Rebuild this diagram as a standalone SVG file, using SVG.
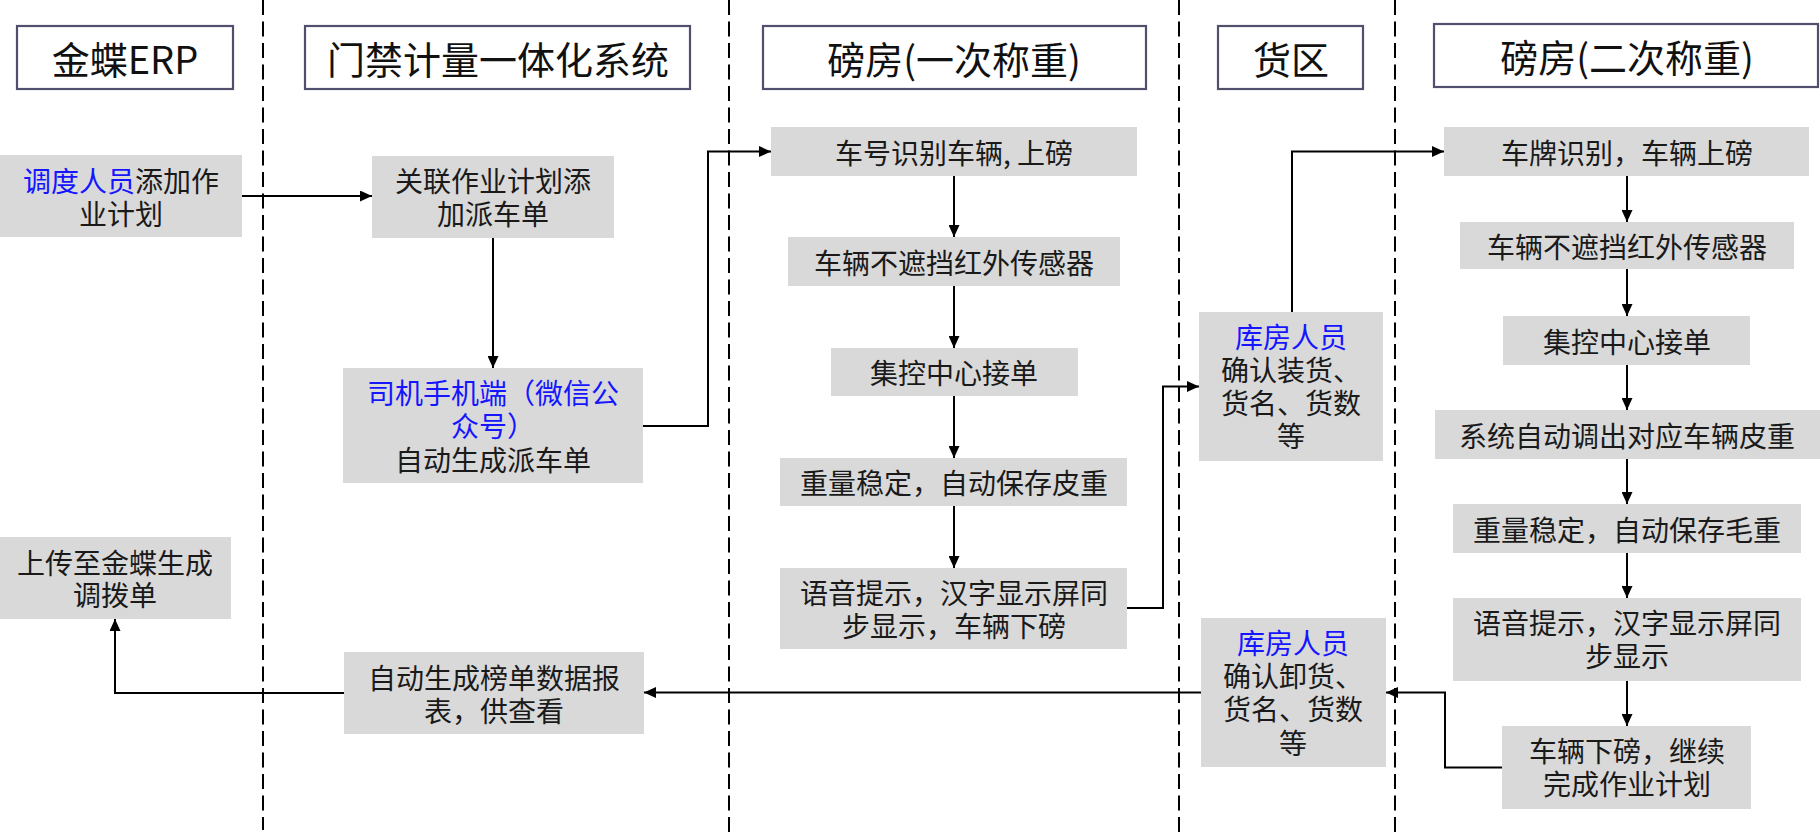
<svg xmlns="http://www.w3.org/2000/svg" width="1820" height="840" viewBox="0 0 1820 840">
<style>
.hdr{fill:#fff;stroke:#50506c;stroke-width:2.2}
.ht{font-family:"Noto Sans CJK SC","Noto Sans",sans-serif;font-size:38px;fill:#111;text-anchor:middle;dominant-baseline:central}
.nd{fill:#d9d9d9}
.t{font-family:"Noto Sans CJK SC","Noto Sans",sans-serif;font-size:28px;fill:#1a1a1a;text-anchor:middle;dominant-baseline:central}
.b{fill:#1515ff}
.lane{stroke:#000;stroke-width:2;stroke-dasharray:15 6.5;fill:none}
.c{stroke:#000;stroke-width:2;fill:none;marker-end:url(#ah)}
</style>
<defs>
<marker id="ah" markerUnits="userSpaceOnUse" markerWidth="12" markerHeight="11" refX="12" refY="5.5" orient="auto">
<path d="M0,0 L12,5.5 L0,11 z" fill="#000"/>
</marker>
</defs>
<rect width="1820" height="840" fill="#fff"/>
<g id="lanes">
<line class="lane" x1="263" y1="0" x2="263" y2="830"/>
<line class="lane" x1="729" y1="0" x2="729" y2="836"/>
<line class="lane" x1="1179" y1="0" x2="1179" y2="838"/>
<line class="lane" x1="1395" y1="0" x2="1395" y2="838"/>
</g>
<g id="h1"><rect class="hdr" x="17" y="26" width="216" height="63"/><text class="ht" x="125" y="57">金蝶ERP</text></g>
<g id="h2"><rect class="hdr" x="305" y="26" width="385" height="63"/><text class="ht" x="498" y="57">门禁计量一体化系统</text></g>
<g id="h3"><rect class="hdr" x="763" y="26" width="383" height="63"/><text class="ht" x="954" y="57">磅房(一次称重)</text></g>
<g id="h4"><rect class="hdr" x="1218" y="26" width="145" height="63"/><text class="ht" x="1291" y="57">货区</text></g>
<g id="h5"><rect class="hdr" x="1434" y="24" width="384" height="63"/><text class="ht" x="1627" y="55">磅房(二次称重)</text></g>

<g id="n1"><rect class="nd" x="0" y="155" width="242" height="82"/><text class="t" x="121" y="180"><tspan class="b">调度人员</tspan>添加作<tspan x="121" dy="33">业计划</tspan></text></g>
<g id="n2"><rect class="nd" x="372" y="156" width="242" height="82"/><text class="t" x="493" y="180">关联作业计划添<tspan x="493" dy="33">加派车单</tspan></text></g>
<g id="n3"><rect class="nd" x="343" y="368" width="300" height="115"/><text class="t" x="493" y="392"><tspan class="b">司机手机端（微信公</tspan><tspan class="b" x="493" dy="33">众号）</tspan><tspan x="493" dy="34">自动生成派车单</tspan></text></g>
<g id="n4"><rect class="nd" x="771" y="127" width="366" height="49"/><text class="t" x="954" y="151.5">车号识别车辆, 上磅</text></g>
<g id="n5"><rect class="nd" x="788" y="237" width="332" height="49"/><text class="t" x="954" y="261.5">车辆不遮挡红外传感器</text></g>
<g id="n6"><rect class="nd" x="831" y="348" width="247" height="48"/><text class="t" x="954" y="372">集控中心接单</text></g>
<g id="n7"><rect class="nd" x="780" y="458" width="347" height="48"/><text class="t" x="954" y="482">重量稳定，自动保存皮重</text></g>
<g id="n8"><rect class="nd" x="780" y="568" width="347" height="81"/><text class="t" x="954" y="592">语音提示，汉字显示屏同<tspan x="954" dy="33">步显示，车辆下磅</tspan></text></g>
<g id="n9"><rect class="nd" x="1199" y="312" width="184" height="149"/><text class="t" x="1291" y="336"><tspan class="b">库房人员</tspan><tspan x="1291" dy="33">确认装货、</tspan><tspan x="1291" dy="33">货名、货数</tspan><tspan x="1291" dy="33">等</tspan></text></g>
<g id="n10"><rect class="nd" x="1201" y="618" width="185" height="149"/><text class="t" x="1293" y="642"><tspan class="b">库房人员</tspan><tspan x="1293" dy="33">确认卸货、</tspan><tspan x="1293" dy="33">货名、货数</tspan><tspan x="1293" dy="34">等</tspan></text></g>
<g id="n11"><rect class="nd" x="1444" y="127" width="365" height="49"/><text class="t" x="1627" y="151.5">车牌识别，车辆上磅</text></g>
<g id="n12"><rect class="nd" x="1460" y="222" width="334" height="47"/><text class="t" x="1627" y="245.5">车辆不遮挡红外传感器</text></g>
<g id="n13"><rect class="nd" x="1503" y="316" width="247" height="49"/><text class="t" x="1627" y="340.5">集控中心接单</text></g>
<g id="n14"><rect class="nd" x="1435" y="410" width="385" height="49"/><text class="t" x="1627" y="434.5">系统自动调出对应车辆皮重</text></g>
<g id="n15"><rect class="nd" x="1453" y="504" width="348" height="49"/><text class="t" x="1627" y="528.5">重量稳定，自动保存毛重</text></g>
<g id="n16"><rect class="nd" x="1453" y="598" width="348" height="83"/><text class="t" x="1627" y="622">语音提示，汉字显示屏同<tspan x="1627" dy="33">步显示</tspan></text></g>
<g id="n17"><rect class="nd" x="1502" y="726" width="249" height="83"/><text class="t" x="1627" y="750">车辆下磅，继续<tspan x="1627" dy="33">完成作业计划</tspan></text></g>
<g id="n18"><rect class="nd" x="0" y="537" width="231" height="82"/><text class="t" x="115" y="562">上传至金蝶生成<tspan x="115" dy="32">调拨单</tspan></text></g>
<g id="n19"><rect class="nd" x="344" y="652" width="300" height="82"/><text class="t" x="494" y="677">自动生成榜单数据报<tspan x="494" dy="33">表，供查看</tspan></text></g>

<g id="connectors">
<path class="c" d="M242,196 H372"/>
<path class="c" d="M493,238 V368"/>
<path class="c" d="M643,426 H708 V151.5 H771"/>
<path class="c" d="M954,176 V237"/>
<path class="c" d="M954,286 V348"/>
<path class="c" d="M954,396 V458"/>
<path class="c" d="M954,506 V568"/>
<path class="c" d="M1127,608 H1163 V386.5 H1199"/>
<path class="c" d="M1292,312 V151.5 H1444"/>
<path class="c" d="M1627,176 V222"/>
<path class="c" d="M1627,269 V316"/>
<path class="c" d="M1627,365 V410"/>
<path class="c" d="M1627,459 V504"/>
<path class="c" d="M1627,553 V598"/>
<path class="c" d="M1627,681 V726"/>
<path class="c" d="M1502,767.5 H1445 V692.5 H1386"/>
<path class="c" d="M1201,692.5 H644"/>
<path class="c" d="M344,693 H115 V619"/>
</g>
</svg>
